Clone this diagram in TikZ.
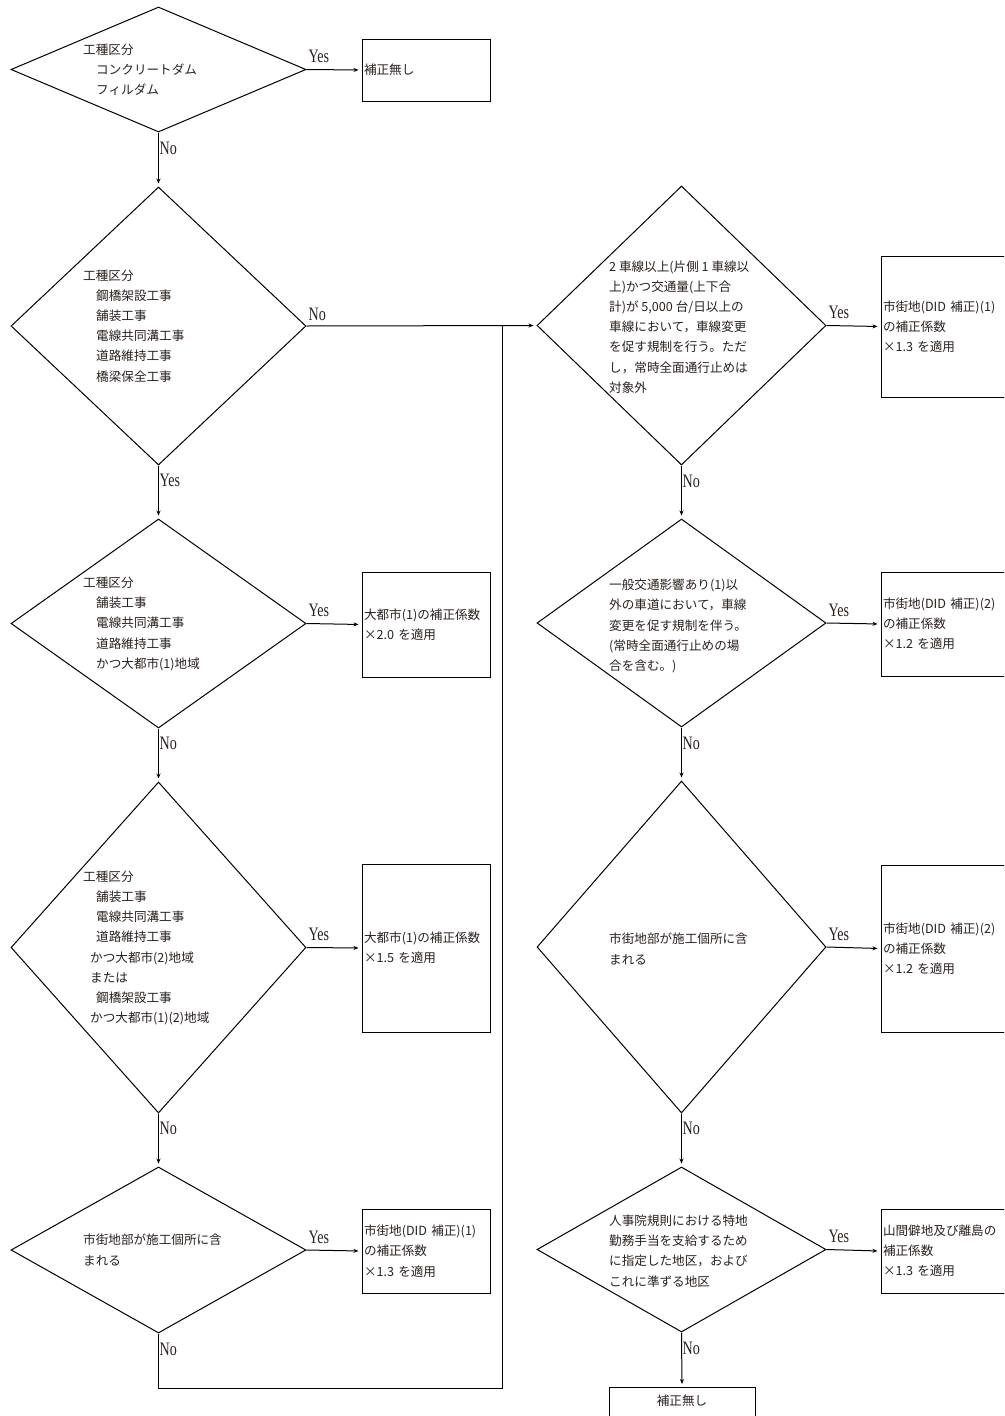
\documentclass[tikz,border=0pt]{standalone}
\usepackage{fontspec}
\newfontfamily\cjk{Noto Sans CJK JP}
\newfontfamily\lblfont{Liberation Serif}
\usetikzlibrary{shapes.geometric,arrows.meta}
\definecolor{txtcol}{RGB}{40,34,32}
\begin{document}
\begin{tikzpicture}[x=1pt,y=-1pt,
  dia/.style={draw, diamond, inner sep=0pt, line width=1pt},
  ldia/.style={dia, minimum width=295pt},
  rdia/.style={dia, minimum width=289pt},
  box/.style={draw, rectangle, inner xsep=2pt, inner ysep=0pt, align=left,
    line width=1pt, font=\cjk\fontsize{12.6}{20.2}\selectfont, text=txtcol},
  lbox/.style={box, text width=124pt},
  rbox/.style={box, text width=127pt},
  jtxt/.style={font=\cjk\fontsize{12.6}{20.2}\selectfont, text=txtcol, align=left,
    inner sep=0pt, anchor=west},
  lbl/.style={font=\lblfont\fontsize{19}{20}\selectfont, xscale=0.74, inner sep=0pt,
    text=txtcol, anchor=base west},
  arr/.style={-{Stealth[length=5pt,width=4pt]}, line width=1pt, shorten >=3pt},
  ln/.style={line width=1pt}]
\useasboundingbox (0,0) rectangle (1004,1416);
\clip (0,0) rectangle (1004,1416);
\fill[white] (0,0) rectangle (1004,1416);

% ---------------- left column ----------------
\node[ldia, minimum height=125pt] (d1) at (158.5,69.5) {};
\node[ldia, minimum height=278pt] (d2) at (158.5,326) {};
\node[ldia, minimum height=209pt] (d3) at (158.5,623.5) {};
\node[ldia, minimum height=331pt] (d4) at (158.5,947.5) {};
\node[ldia, minimum height=166pt] (d5) at (158.5,1250) {};

\node[jtxt] (t1) at (83,70) {工種区分\\\hspace*{13pt}コンクリートダム\\\hspace*{13pt}フィルダム};
\node[jtxt] (t2) at (83,326) {工種区分\\\hspace*{13pt}鋼橋架設工事\\\hspace*{13pt}舗装工事\\\hspace*{13pt}電線共同溝工事\\\hspace*{13pt}道路維持工事\\\hspace*{13pt}橋梁保全工事};
\node[jtxt] (t3) at (83,624) {工種区分\\\hspace*{13pt}舗装工事\\\hspace*{13pt}電線共同溝工事\\\hspace*{13pt}道路維持工事\\\hspace*{13pt}かつ大都市(1)地域};
\node[jtxt] (t4) at (83,948) {工種区分\\\hspace*{13pt}舗装工事\\\hspace*{13pt}電線共同溝工事\\\hspace*{13pt}道路維持工事\\\hspace*{7pt}かつ大都市(2)地域\\\hspace*{7pt}または\\\hspace*{13pt}鋼橋架設工事\\\hspace*{7pt}かつ大都市(1)(2)地域};
\node[jtxt] (t5) at (83,1250) {市街地部が施工個所に含\\まれる};

\node[lbox, minimum height=62pt] (b1) at (426,70) {補正無し};
\node[lbox, minimum height=105pt] (b3) at (426,624.5) {大都市(1)の補正係数\\×2.0 を適用};
\node[lbox, minimum height=168pt] (b4) at (426,948) {大都市(1)の補正係数\\×1.5 を適用};
\node[lbox, minimum height=84pt] (b5) at (426,1251) {市街地(DID 補正)(1)\\の補正係数\\×1.3 を適用};

% ---------------- right column ----------------
\node[rdia, minimum height=279pt] (d6) at (681.5,325.5) {};
\node[rdia, minimum height=208pt] (d7) at (681.5,623) {};
\node[rdia, minimum height=332pt] (d8) at (681.5,947) {};
\node[rdia, minimum height=165pt] (d9) at (681.5,1249.5) {};

\node[jtxt] (t6) at (609,327) {2 車線以上(片側 1 車線以\\上)かつ交通量(上下合\\計)が 5,000 台/日以上の\\車線において，車線変更\\を促す規制を行う。ただ\\し，常時全面通行止めは\\対象外};
\node[jtxt] (t7) at (609,626) {一般交通影響あり(1)以\\外の車道において，車線\\変更を促す規制を伴う。\\(常時全面通行止めの場\\合を含む。)};
\node[jtxt] (t8) at (609,949) {市街地部が施工個所に含\\まれる};
\node[jtxt] (t9) at (609,1251) {人事院規則における特地\\勤務手当を支給するため\\に指定した地区，および\\これに準ずる地区};

\node[rbox, minimum height=141pt] (b6) at (946.5,326.5) {市街地(DID 補正)(1)\\の補正係数\\×1.3 を適用};
\node[rbox, minimum height=104pt] (b7) at (946.5,624) {市街地(DID 補正)(2)\\の補正係数\\×1.2 を適用};
\node[rbox, minimum height=167pt] (b8) at (946.5,948.5) {市街地(DID 補正)(2)\\の補正係数\\×1.2 を適用};
\node[rbox, minimum height=84pt] (b9) at (946.5,1251) {山間僻地及び離島の\\補正係数\\×1.3 を適用};

\node[box, align=center, minimum width=146pt, text height=14pt, text depth=30pt,
  inner ysep=4pt, anchor=north] (bf) at (682,1387) {補正無し};

% ---------------- connectors ----------------
\coordinate (j) at (502,326);
\coordinate (c) at (502,1388);

\draw[arr] (d1.east) -- (b1.west);
\draw[arr] (d1.south) -- (d2.north);
\draw[arr] (d2.east) -- (d6.west);
\draw[arr] (d2.south) -- (d3.north);
\draw[arr] (d3.east) -- (b3.west);
\draw[arr] (d3.south) -- (d4.north);
\draw[arr] (d4.east) -- (b4.west);
\draw[arr] (d4.south) -- (d5.north);
\draw[arr] (d5.east) -- (b5.west);
\draw[ln] (d5.south) |- (c) -- (j);

\draw[arr] (d6.east) -- (b6.west);
\draw[arr] (d6.south) -- (d7.north);
\draw[arr] (d7.east) -- (b7.west);
\draw[arr] (d7.south) -- (d8.north);
\draw[arr] (d8.east) -- (b8.west);
\draw[arr] (d8.south) -- (d9.north);
\draw[arr] (d9.east) -- (b9.west);
\draw[arr] (d9.south) -- (bf.north);

% ---------------- labels ----------------
\node[lbl] (y1) at ([shift={(2,-7)}]d1.east) {Yes};
\node[lbl] (n1) at ([shift={(1,22)}]d1.south) {No};
\node[lbl] (n2) at ([shift={(2,-6)}]d2.east) {No};
\node[lbl] (y2) at ([shift={(1,21)}]d2.south) {Yes};
\node[lbl] (y3) at ([shift={(2,-7)}]d3.east) {Yes};
\node[lbl] (n3) at ([shift={(1,21)}]d3.south) {No};
\node[lbl] (y4) at ([shift={(2,-7)}]d4.east) {Yes};
\node[lbl] (n4) at ([shift={(1,21)}]d4.south) {No};
\node[lbl] (y5) at ([shift={(2,-7)}]d5.east) {Yes};
\node[lbl] (n5) at ([shift={(1,22)}]d5.south) {No};

\node[lbl] (y6) at ([shift={(2,-7)}]d6.east) {Yes};
\node[lbl] (n6) at ([shift={(1,22)}]d6.south) {No};
\node[lbl] (y7) at ([shift={(2,-7)}]d7.east) {Yes};
\node[lbl] (n7) at ([shift={(1,22)}]d7.south) {No};
\node[lbl] (y8) at ([shift={(2,-7)}]d8.east) {Yes};
\node[lbl] (n8) at ([shift={(1,21)}]d8.south) {No};
\node[lbl] (y9) at ([shift={(2,-7)}]d9.east) {Yes};
\node[lbl] (n9) at ([shift={(1,22)}]d9.south) {No};
\end{tikzpicture}
\end{document}
